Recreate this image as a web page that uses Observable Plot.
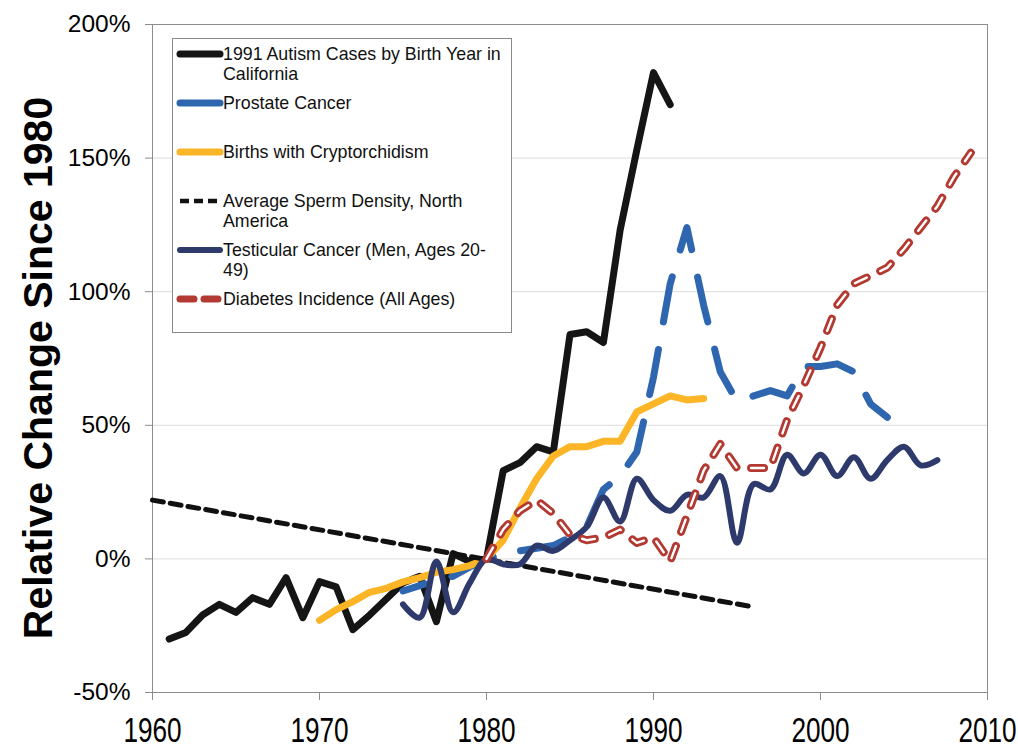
<!DOCTYPE html>
<html>
<head>
<meta charset="utf-8">
<script src="https://cdn.jsdelivr.net/npm/d3@7"></script>
<script src="https://cdn.jsdelivr.net/npm/@observablehq/plot@0.6"></script>
<style>
  body { margin: 0; background: #fff; }
  #wrap { position: relative; width: 1018px; height: 749px; font-family: "Liberation Sans", Arial, sans-serif; }
  #ytitle { position: absolute; left: 38px; top: 368px; transform: translate(-50%, -50%) rotate(-90deg);
            font-weight: bold; font-size: 41px; white-space: nowrap; line-height: 1; color: #000; }
  #legend { position: absolute; left: 172px; top: 38px; width: 338px; height: 293px;
            border: 1px solid #8a8a8a; background: #fff; font-size: 17.8px; color: #111; }
  .row { position: absolute; left: 0; width: 100%; }
  .row svg { position: absolute; left: 3px; top: 0; }
  .row .txt { position: absolute; left: 50px; top: 0; line-height: 20px; white-space: nowrap; }
</style>
</head>
<body>
<div id="wrap">
  <div id="chart"></div>
  <div id="ytitle">Relative Change Since 1980</div>
  <div id="legend"></div>
</div>
<script>
// ---- tick labels ----
const xTicks = [1960, 1970, 1980, 1990, 2000, 2010];
const yTicks = [-50, 0, 50, 100, 150, 200];
const gridTicks = [0, 50, 100, 150];

// ---- series names ----
const seriesNames = [
  ["1991 Autism Cases by Birth Year in", "California"],
  ["Prostate Cancer"],
  ["Births with Cryptorchidism"],
  ["Average Sperm Density, North", "America"],
  ["Testicular Cancer (Men, Ages 20-", "49)"],
  ["Diabetes Incidence (All Ages)"]
];

// ---- 1991 Autism cases by birth year in California ----
const autismYears  = [1961,1962,1963,1964,1965,1966,1967,1968,1969,1970,1971,1972,1973,1974,1975,1976,1977,1978,1979,1980,1981,1982,1983,1984,1985,1986,1987,1988,1989,1990,1991];
const autismValues = [-30,-27.5,-21,-17,-20,-14.5,-17,-7,-22,-8.5,-10.5,-26.5,-21,-15,-9,-6.5,-23.5,2,-1,0,33,36,42,40,84,85,81,123,153,182,170];

// ---- Prostate cancer ----
const prostateYears  = [1975,1976,1977,1978,1979,1980,1981,1982,1983,1984,1985,1986,1987,1988,1989,1990,1991,1992,1993,1994,1995,1996,1997,1998,1999,2000,2001,2002,2003,2004];
const prostateValues = [-12,-10,-8,-6.5,-3,0,2,3,4,5,8,12,26,31,40,68,103,124,95,70,59,61,63,61,72,72,73,70,58,53];

// ---- Births with cryptorchidism ----
const cryptYears  = [1970,1971,1972,1973,1974,1975,1976,1977,1978,1979,1980,1981,1982,1983,1984,1985,1986,1987,1988,1989,1990,1991,1992,1993];
const cryptValues = [-23,-19,-16,-12.5,-11,-8.6,-7,-5,-4,-2.5,0,7,19,30,38.5,42,42,44,44,55,58,61,59.5,60];

// ---- Average sperm density, North America ----
const spermYears  = [1960, 1996];
const spermValues = [22, -18];

// ---- Testicular cancer (men, ages 20-49) ----
const testYears  = [1975,1976,1977,1978,1979,1980,1981,1982,1983,1984,1985,1986,1987,1988,1989,1990,1991,1992,1993,1994,1995,1996,1997,1998,1999,2000,2001,2002,2003,2004,2005,2006,2007];
const testValues = [-17,-22,-1,-20,-9,0,-2,-2,5,3,7,12,23,14,30,22,18,24,23,31,6,28,26,39,32,39,31,38,30,37,42,35,37];

// ---- Diabetes incidence (all ages) ----
const diabYears  = [1980,1981,1982,1983,1984,1985,1986,1987,1988,1989,1990,1991,1992,1993,1994,1995,1996,1997,1998,1999,2000,2001,2002,2003,2004,2005,2006,2007,2008,2009];
const diabValues = [0,11,18,22,17,9,7,8,11,6,8,-1,16,33,43,34,34,34,52,65,79,95,103,106,109,116,124,132,143,152];

const colors = { autism: "#151515", prostate: "#2f66b0", crypt: "#fbb526", sperm: "#111111", test: "#2e3a6b", diab: "#b33a32" };

const toRows = (xs, ys) => xs.map((x, i) => ({ year: x, value: ys[i] }));
const autism = toRows(autismYears, autismValues);
const prostate = toRows(prostateYears, prostateValues);
const crypt = toRows(cryptYears, cryptValues);
const sperm = toRows(spermYears, spermValues);
const test = toRows(testYears, testValues);
const diab = toRows(diabYears, diabValues);

const common = { x: "year", y: "value", strokeLinejoin: "round", strokeLinecap: "round" };

const chart = Plot.plot({
  width: 1018, height: 749,
  marginLeft: 152, marginRight: 31, marginTop: 24, marginBottom: 57,
  style: { fontFamily: "Liberation Sans, Arial, sans-serif", background: "#fff", color: "#000", overflow: "visible" },
  x: { domain: [1960, 2010] },
  y: { domain: [-50, 200] },
  marks: [
    Plot.gridY(gridTicks, { stroke: "#dcdcdc", strokeOpacity: 1 }),
    Plot.frame({ stroke: "#8c8c8c" }),
    Plot.axisY(yTicks, { tickFormat: d => d + "%", tickSize: 7, tickPadding: 15, fontSize: 24.5, stroke: "#8c8c8c", fill: "#000", label: null }),
    Plot.axisX(xTicks, { tickFormat: d => String(d), tickSize: 8, tickPadding: 17, fontSize: 27,
      stroke: "#8c8c8c", fill: "#000", label: null }),
    Plot.line(autism, { ...common, stroke: colors.autism, strokeWidth: 7 }),
    Plot.line(prostate, { ...common, stroke: colors.prostate, strokeWidth: 7, strokeDasharray: "46,28" }),
    Plot.line(crypt, { ...common, stroke: colors.crypt, strokeWidth: 7 }),
    Plot.line(sperm, { x: "year", y: "value", stroke: colors.sperm, strokeWidth: 5, strokeDasharray: "11,7" }),
    Plot.line(test, { ...common, stroke: colors.test, strokeWidth: 6, curve: "catmull-rom" }),
    Plot.line(diab, { ...common, stroke: colors.diab, strokeWidth: 8, strokeDasharray: "13,15" }),
    Plot.line(diab, { ...common, stroke: "#fff", strokeWidth: 2.4, strokeDasharray: "13,15" })
  ]
});
document.getElementById("chart").appendChild(chart);

// stretch x tick labels vertically (narrow, tall look of the original)
d3.select(chart).selectAll('g[aria-label="x-axis tick label"] text').each(function () {
  const t = this.getAttribute("transform") || "";
  this.setAttribute("transform", t + " scale(0.97,1.3)");
});

// align the long-dash pattern of the prostate line so a dash covers its peak
d3.select(chart).selectAll(`g[stroke="${colors.prostate}"] path`).each(function () {
  const total = this.getTotalLength();
  let best = 0, bestY = Infinity;
  for (let l = 0; l <= total; l += 1) {
    const p = this.getPointAtLength(l);
    if (p.y < bestY) { bestY = p.y; best = l; }
  }
  const period = 74;
  const off = ((23 - best) % period + period) % period;
  this.setAttribute("stroke-dashoffset", off);
});

// ---- legend ----
const legendStyles = [
  { stroke: colors.autism, width: 7, dash: null, cap: "round" },
  { stroke: colors.prostate, width: 7, dash: null, cap: "round" },
  { stroke: colors.crypt, width: 7, dash: null, cap: "round" },
  { stroke: colors.sperm, width: 4.5, dash: "9,5", cap: "butt" },
  { stroke: colors.test, width: 6, dash: null, cap: "round" },
  { stroke: colors.diab, width: 7, dash: "14,10", cap: "round" }
];
const rowTops = [5, 54, 103, 152, 201, 250];
const legend = document.getElementById("legend");
seriesNames.forEach((lines, i) => {
  const s = legendStyles[i];
  const row = document.createElement("div");
  row.className = "row";
  row.style.top = rowTops[i] + "px";
  const dashAttr = s.dash ? ` stroke-dasharray="${s.dash}"` : "";
  row.innerHTML = `<svg width="48" height="20"><line x1="4" y1="10" x2="44" y2="10" stroke="${s.stroke}" stroke-width="${s.width}" stroke-linecap="${s.cap}"${dashAttr}/></svg>` +
    `<div class="txt">${lines.join("<br>")}</div>`;
  legend.appendChild(row);
});
</script>
</body>
</html>
